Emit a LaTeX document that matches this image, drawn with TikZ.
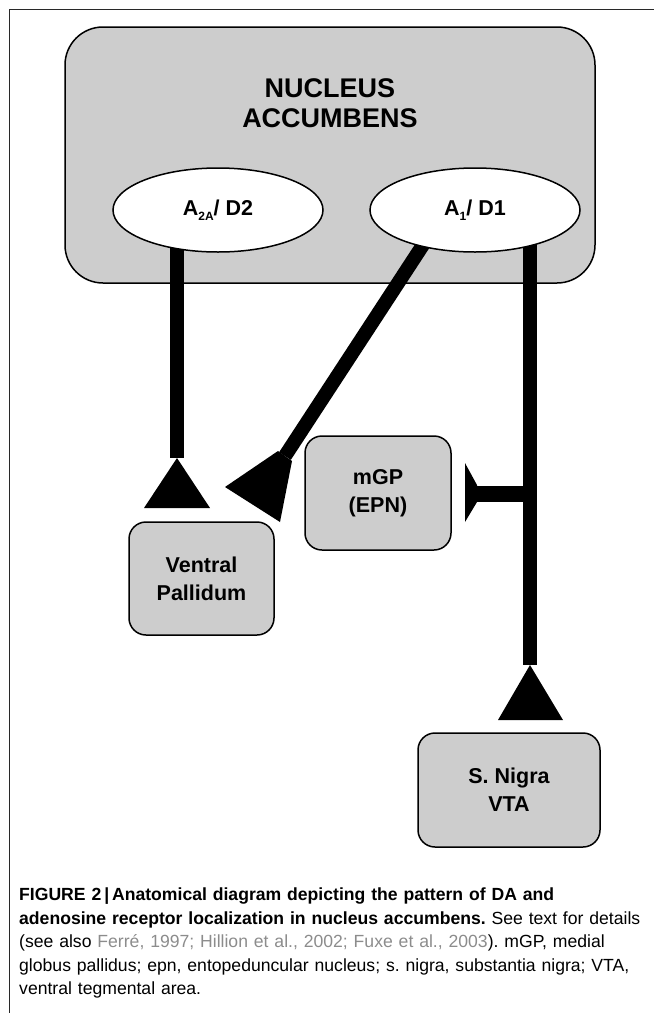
\documentclass[tikz,border=0pt]{standalone}
\usepackage{fontspec}
\setmainfont{Liberation Sans}
\usetikzlibrary{positioning,shapes.geometric,backgrounds,calc}
\definecolor{boxgray}{RGB}{205,205,205}
\definecolor{refgray}{RGB}{140,140,140}
\definecolor{framegray}{RGB}{40,40,40}
\newcommand{\lowsub}[1]{\raisebox{-5pt}{\fontsize{12}{12}\selectfont #1}}
\frenchspacing

\tikzset{
  region/.style={draw,line width=1.5pt,fill=boxgray,rounded corners=17pt,
    align=center,font=\fontsize{21.5}{28}\selectfont\bfseries},
  receptor/.style={ellipse,draw,line width=1.5pt,fill=white,inner sep=0pt,
    minimum width=210pt,minimum height=84pt,font=\fontsize{21.5}{27}\selectfont\bfseries},
  axon/.style={line width=14pt},
}

\begin{document}
\begin{tikzpicture}[x=1pt,y=-1pt]
    \useasboundingbox (0,0) rectangle (654,1013);
    \draw[framegray,line width=1pt] (9,1013) |- (654,9);

    % receptors inside the accumbens
    \node[receptor] (d2) at (218,210) {A\lowsub{2A}/ D2};
    \node[receptor] (d1) at (475,210) {A\lowsub{1}/ D1};
    \node[align=center,font=\fontsize{27}{30}\selectfont\bfseries] (nactitle) at (330,103)
        {NUCLEUS\\ACCUMBENS};

    % target regions
    \node[region,minimum width=146pt,minimum height=114pt] (mgp) at (378,493) {mGP\\(EPN)};
    \node[region,minimum width=145pt,minimum height=113pt] (vp) at (201.5,578.5) {Ventral\\Pallidum};
    \node[region,minimum width=182pt,minimum height=114pt] (snvta) at (509,790) {S. Nigra\\VTA};

    \coordinate (vptip) at (177,458);
    \coordinate (vpside) at (285,456);
    \coordinate (sntip) at (530,665);
    \coordinate (snfork) at (530,494);
    \coordinate (mgpbar) at (477,494);

    \begin{scope}[on background layer]
        \node[draw,line width=1.5pt,fill=boxgray,rounded corners=38pt,
            minimum width=530pt,minimum height=256pt] (nac) at (330,155) {};
        \draw[axon] ($(d2.center)+(-41,0)$) -- (vptip);
        \draw[axon] ($(d1.center)+(-39,15)$) -- (vpside);
        \draw[axon] ($(d1.center)+(55,0)$) -- (sntip);
        \draw[line width=16pt] (snfork) -- (mgpbar);
    \end{scope}

    % terminals
    \fill (vptip) -- ++(-33,50) -- ++(66,0) -- cycle;
    \fill (sntip) -- ++(-32,55) -- ++(65,0) -- cycle;
    \fill ($(vpside)+(-7,-5)$) -- ++(-53,36) -- ++(55,35) -- ($(vpside)+(7,5)$) -- cycle;
    \fill (mgpbar) ++(0,-9) -- ++(-12,-22) -- ++(0,59) -- ++(12,-20) -- cycle;

    % caption
    \node[anchor=north west,inner sep=0pt,text width=640pt,align=left,
        font=\fontsize{17.6}{23.4}\selectfont] (caption) at (19,888)
        {\textbf{FIGURE 2\,|\,Anatomical diagram depicting the pattern of DA and}\\
         \textbf{adenosine receptor localization in nucleus accumbens.} See text for details\\
         (see also \textcolor{refgray}{Ferré, 1997; Hillion et al., 2002; Fuxe et al., 2003}). mGP, medial\\
         globus pallidus; epn, entopeduncular nucleus; s. nigra, substantia nigra; VTA,\\
         ventral tegmental area.};
\end{tikzpicture}
\end{document}
